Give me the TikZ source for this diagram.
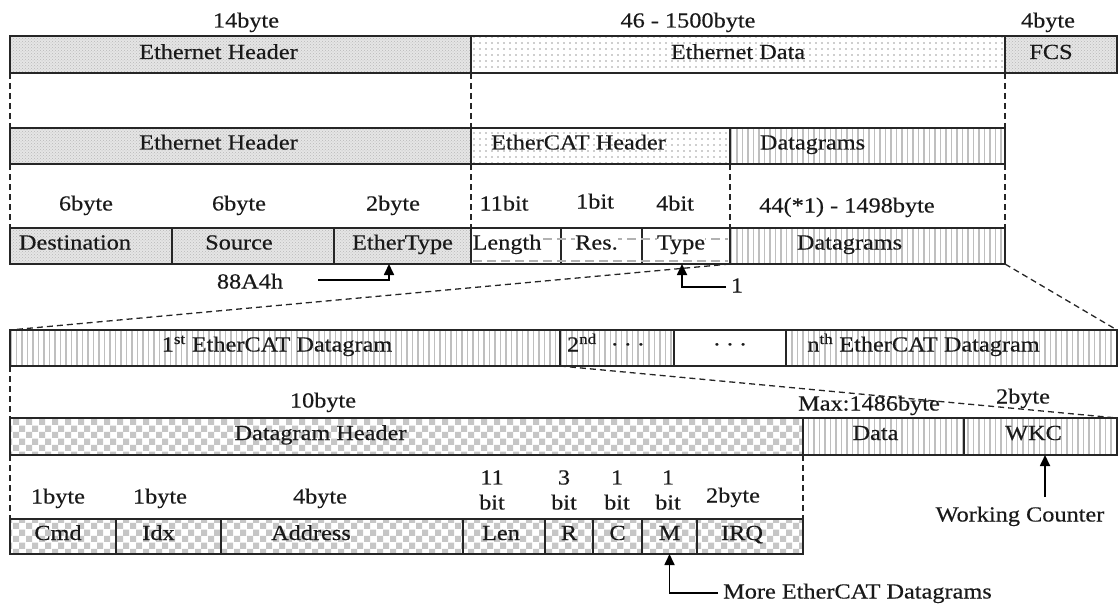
\documentclass[tikz,border=0pt]{standalone}
\usepackage{fontspec}
\setmainfont{Liberation Serif}[FakeStretch=1.13,FakeBold=0.35]
\usetikzlibrary{patterns,patterns.meta,arrows.meta}

\pgfdeclarepatternformonly{checker}{\pgfpointorigin}{\pgfqpoint{13pt}{13pt}}{\pgfqpoint{13pt}{13pt}}{%
 \pgfpathrectangle{\pgfpointorigin}{\pgfqpoint{6.5pt}{6.5pt}}%
 \pgfpathrectangle{\pgfqpoint{6.5pt}{6.5pt}}{\pgfqpoint{6.5pt}{6.5pt}}%
 \pgfusepath{fill}}

\tikzset{
 fbox/.style={draw=black!85, line width=1.6pt, anchor=north west, inner sep=0pt, outer sep=0pt},
 ehdr/.style={fbox, preaction={fill=gray!20}, pattern=crosshatch dots, pattern color=gray!55},
 edat/.style={fbox, preaction={fill=white}, pattern={Dots[distance=6pt,radius=0.8pt]}, pattern color=gray!75},
 vlin/.style={fbox, preaction={fill=white}, pattern={Lines[angle=90,distance=5.5pt,line width=1.5pt]}, pattern color=gray!50},
 chk/.style={fbox, preaction={fill=white}, pattern=checker, pattern color=gray!45},
 wbox/.style={fbox, fill=white},
 txt/.style={font=\fontsize{21.5}{26}\selectfont, inner sep=0pt, text=black!90, text height=15pt, text depth=4pt},
 txtb/.style={font=\fontsize{21.5}{25}\selectfont, inner sep=0pt, text=black!90, align=center},
 dsh/.style={draw=black!85, line width=1.3pt, dash pattern=on 6pt off 4pt},
 hd/.style={draw=gray!60, line width=1.3pt, dash pattern=on 9pt off 5pt},
 arr/.style={draw=black, line width=1.7pt, -{Triangle[length=11pt,width=10pt]}},
}

\begin{document}
\begin{tikzpicture}[x=1pt,y=-1pt]
\useasboundingbox (0,0) rectangle (1118,607);

% ---------- Row 1 ----------
\node[ehdr, minimum width=461pt, minimum height=37pt] (eh1) at (10,36) {};
\node[edat, minimum width=534pt, minimum height=37pt] (ed1) at (471,36) {};
\node[ehdr, minimum width=112pt, minimum height=37pt] (fcs) at (1005,36) {};
\node[txt] (t1a) at ([xshift=-22pt,yshift=1pt]eh1.center) {Ethernet Header};
\node[txt] (t1b) at ([yshift=1pt]ed1.center) {Ethernet Data};
\node[txt] (t1c) at ([xshift=-10pt,yshift=1pt]fcs.center) {FCS};
\node[txt] (l1a) at (246,22) {14byte};
\node[txt] (l1b) at (688,22) {46 - 1500byte};
\node[txt] (l1c) at (1048,22) {4byte};

% ---------- Row 2 ----------
\node[ehdr, minimum width=461pt, minimum height=36pt] (eh2) at (10,128) {};
\node[edat, minimum width=259pt, minimum height=36pt] (ech) at (471,128) {};
\node[vlin, minimum width=275pt, minimum height=36pt] (dg2) at (730,128) {};
\node[txt] (t2a) at ([xshift=-22pt,yshift=2pt]eh2.center) {Ethernet Header};
\node[txt] (t2b) at ([xshift=-22pt,yshift=2pt]ech.center) {EtherCAT Header};
\node[txt] (t2c) at ([xshift=-55pt,yshift=2pt]dg2.center) {Datagrams};

% ---------- Row 3 ----------
\node[ehdr, minimum width=162pt, minimum height=36pt] (dst) at (10,228) {};
\node[ehdr, minimum width=162pt, minimum height=36pt] (src) at (172,228) {};
\node[ehdr, minimum width=137pt, minimum height=36pt] (ety) at (334,228) {};
\node[wbox, minimum width=90pt, minimum height=36pt] (len) at (471,228) {};
\node[wbox, minimum width=81pt, minimum height=36pt] (res) at (561,228) {};
\node[wbox, minimum width=88pt, minimum height=36pt] (typ) at (642,228) {};
\node[vlin, minimum width=275pt, minimum height=36pt] (dg3) at (730,228) {};
\draw[hd] ([xshift=2pt,yshift=7pt]len.west) -- ([xshift=-2pt,yshift=7pt]typ.east);
\draw[hd] ([xshift=2pt,yshift=-15pt]len.west) -- ([xshift=-2pt,yshift=-15pt]typ.east);
\node[txt] (t3a) at ([xshift=-16pt,yshift=2pt]dst.center) {Destination};
\node[txt] (t3b) at ([xshift=-14pt,yshift=2pt]src.center) {Source};
\node[txt] (t3c) at ([yshift=2pt]ety.center) {EtherType};
\node[txt, fill=white] (t3d) at ([xshift=-9pt,yshift=2pt]len.center) {Length};
\node[txt, fill=white] (t3e) at ([xshift=-5pt,yshift=2pt]res.center) {Res.};
\node[txt, fill=white] (t3f) at ([xshift=-5pt,yshift=2pt]typ.center) {Type};
\node[txt] (t3g) at ([xshift=-18pt,yshift=2pt]dg3.center) {Datagrams};
\node[txt] (l3a) at (86,205) {6byte};
\node[txt] (l3b) at (239,205) {6byte};
\node[txt] (l3c) at (393,205) {2byte};
\node[txt] (l3d) at (504,205) {11bit};
\node[txt] (l3e) at (595,203) {1bit};
\node[txt] (l3f) at (675,205) {4bit};
\node[txt] (l3g) at (847,207) {44(*1) - 1498byte};

% arrows under row 3
\node[txt] (t88) at (250,283) {88A4h};
\coordinate (a88) at (318,280);
\draw[arr] (a88) -| ([xshift=-13.5pt]ety.south);
\node[txt] (tone) at (737,287) {1};
\coordinate (a1) at (726,287);
\draw[arr] (a1) -| ([xshift=-4pt]typ.south);

% ---------- Row 4 ----------
\node[vlin, minimum width=550pt, minimum height=36pt] (d1) at (10,330) {};
\node[vlin, minimum width=114pt, minimum height=36pt] (d2) at (560,330) {};
\node[wbox, minimum width=112pt, minimum height=36pt] (dd) at (674,330) {};
\node[vlin, minimum width=331pt, minimum height=36pt] (dn) at (786,330) {};
\node[txt] (t4a) at ([xshift=-8pt,yshift=2pt]d1.center) {1\textsuperscript{st} EtherCAT Datagram};
\node[txt] (t4b) at ([xshift=-11pt,yshift=2pt]d2.center) {2\textsuperscript{nd}\hspace{14pt}·\hspace{5pt}·\hspace{5pt}·};
\node[txt] (t4c) at ([yshift=2pt]dd.center) {·\hspace{5pt}·\hspace{5pt}·};
\node[txt] (t4d) at ([xshift=-28pt,yshift=2pt]dn.center) {n\textsuperscript{th} EtherCAT Datagram};

% ---------- Row 5 ----------
\node[chk, minimum width=793pt, minimum height=37pt] (dh) at (10,418) {};
\node[vlin, minimum width=161pt, minimum height=37pt] (dat) at (803,418) {};
\node[vlin, minimum width=153pt, minimum height=37pt] (wkc) at (964,418) {};
\node[txt] (t5a) at ([xshift=-86pt,yshift=2pt]dh.center) {Datagram Header};
\node[txt] (t5b) at ([xshift=-8pt,yshift=2pt]dat.center) {Data};
\node[txt] (t5c) at ([xshift=-7pt,yshift=2pt]wkc.center) {WKC};
\node[txt] (l5a) at (323,402) {10byte};
\node[txt] (l5c) at (1023,398) {2byte};

% ---------- Row 6 ----------
\node[chk, minimum width=106pt, minimum height=35pt] (cmd) at (10,519) {};
\node[chk, minimum width=105pt, minimum height=35pt] (idx) at (116,519) {};
\node[chk, minimum width=242pt, minimum height=35pt] (adr) at (221,519) {};
\node[chk, minimum width=82pt, minimum height=35pt] (lenb) at (463,519) {};
\node[chk, minimum width=48pt, minimum height=35pt] (rb) at (545,519) {};
\node[chk, minimum width=49pt, minimum height=35pt] (cb) at (593,519) {};
\node[chk, minimum width=55pt, minimum height=35pt] (mb) at (642,519) {};
\node[chk, minimum width=106pt, minimum height=35pt] (irq) at (697,519) {};
\node[txt] (t6a) at ([xshift=-5pt,yshift=2pt]cmd.center) {Cmd};
\node[txt] (t6b) at ([xshift=-10pt,yshift=2pt]idx.center) {Idx};
\node[txt] (t6c) at ([xshift=-31pt,yshift=2pt]adr.center) {Address};
\node[txt] (t6d) at ([xshift=-3pt,yshift=2pt]lenb.center) {Len};
\node[txt] (t6e) at ([yshift=2pt]rb.center) {R};
\node[txt] (t6f) at ([yshift=2pt]cb.center) {C};
\node[txt] (t6g) at ([yshift=2pt]mb.center) {M};
\node[txt] (t6h) at ([xshift=-8pt,yshift=2pt]irq.center) {IRQ};
\node[txt] (l6a) at (58,498) {1byte};
\node[txt] (l6b) at (160,498) {1byte};
\node[txt] (l6c) at (320,498) {4byte};
\node[txtb] (l6d) at (492,490) {11\\bit};
\node[txtb] (l6e) at (564,490) {3\\bit};
\node[txtb] (l6f) at (617,490) {1\\bit};
\node[txtb] (l6g) at (668,490) {1\\bit};
\node[txt] (l6h) at (733,497) {2byte};

% arrows at bottom
\node[txt] (twc) at (1020,516) {Working Counter};
\coordinate (awc) at (1045,497);
\draw[arr] (awc) -- ([xshift=4.5pt]wkc.south);
\node[txt, anchor=west] (tmore) at (723,593) {More EtherCAT Datagrams};
\draw[arr] ([xshift=-5pt]tmore.west) -| (mb.south);

% ---------- dashed guide lines ----------
\draw[dsh] (eh1.south west) -- (eh2.north west);
\draw[dsh] (eh1.south east) -- (eh2.north east);
\draw[dsh] (fcs.south west) -- (dg2.north east);
\draw[dsh] (eh2.south west) -- (dst.north west);
\draw[dsh] (eh2.south east) -- (ety.north east);
\draw[dsh] (ech.south east) -- (typ.north east);
\draw[dsh] (dg2.south east) -- (dg3.north east);
\draw[dsh] (typ.south east) -- (d1.north west);
\draw[dsh] (dg3.south east) -- (dn.north east);
\draw[dsh] (d1.south west) -- (dh.north west);
\draw[dsh] (d2.south west) -- (wkc.north east);
\draw[dsh] (dh.south west) -- (cmd.north west);
\draw[dsh] (dh.south east) -- (irq.north east);
\node[txt] (l5b) at (869,405) {Max:1486byte};
\end{tikzpicture}
\end{document}
